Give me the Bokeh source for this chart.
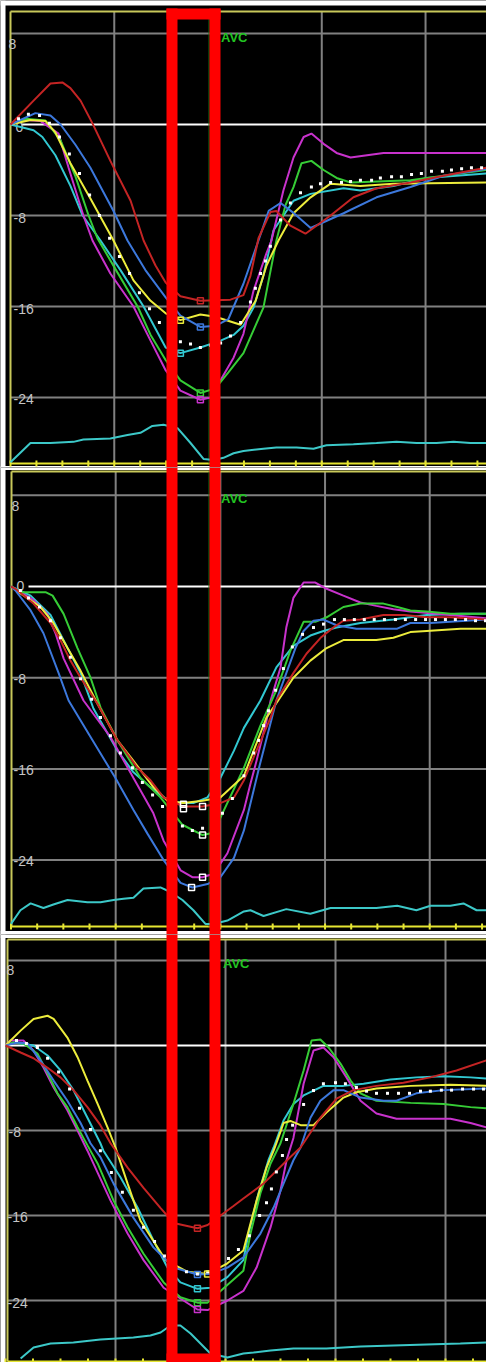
from bokeh.plotting import figure
from bokeh.layouts import column
from bokeh.models import Range1d
from bokeh.embed import file_html
from bokeh.resources import INLINE
from bokeh.core.properties import value

# ---------------- axis / tick data ----------------
Y_TICKS = [8, 0, -8, -16, -24]
Y_LABELS = ["8", "0", "-8", "-16", "-24"]
GRID_S = [8, -8, -16, -24]
GRID_T = [400, 800, 1200, 1600]
X_TICKS = [0, 100, 200, 300, 400, 500, 600, 700, 800, 900, 1000,
           1100, 1200, 1300, 1400, 1500, 1600, 1700, 1800]

# ---------------- panel 1 (time ms, strain %) ----------------
p1_red_t = [0, 89, 154, 200, 231, 270, 316, 385, 463, 513, 559, 598, 655, 732, 848, 898, 925, 956, 1002, 1025, 1079, 1137, 1234, 1322, 1411, 1542, 1669, 1835]
p1_red_s = [0, 2.1, 3.6, 3.7, 3.2, 2.1, 0.1, -3.2, -6.7, -10.2, -12.4, -13.9, -15.1, -15.5, -15.4, -15.0, -13.3, -10.0, -7.7, -7.6, -8.9, -9.6, -8.0, -6.4, -5.6, -5.1, -4.5, -3.8]
p1_blue_t = [0, 96, 154, 193, 251, 308, 397, 451, 520, 598, 655, 732, 790, 840, 898, 956, 995, 1041, 1087, 1157, 1284, 1411, 1542, 1669, 1835]
p1_blue_s = [0, 1.0, 0.8, 0, -1.8, -3.8, -7.6, -10.2, -12.8, -15.2, -16.8, -17.8, -17.7, -17.1, -14.0, -10.2, -7.6, -6.9, -7.7, -9.1, -7.8, -6.4, -5.5, -4.5, -3.9]
p1_yellow_t = [0, 77, 135, 173, 231, 308, 397, 474, 540, 598, 655, 732, 790, 887, 945, 987, 1033, 1091, 1157, 1234, 1349, 1476, 1835]
p1_yellow_s = [0, 0.4, 0.3, -0.7, -3.4, -6.5, -10.2, -13.7, -15.5, -16.6, -17.2, -16.7, -16.9, -17.6, -15.5, -12.4, -10.2, -7.8, -6.4, -5.2, -5.4, -5.2, -5.1]
p1_green_t = [0, 58, 135, 193, 251, 301, 335, 412, 490, 540, 598, 655, 732, 790, 840, 898, 975, 1025, 1060, 1091, 1122, 1160, 1207, 1257, 1311, 1542, 1835]
p1_green_s = [0, 0.5, 0.35, -1.4, -4.6, -8.0, -10.0, -13.0, -16.0, -18.5, -20.7, -22.5, -23.6, -23.2, -21.8, -20.1, -16.1, -10.2, -7.1, -5.5, -3.4, -3.2, -4.0, -4.7, -5.1, -4.9, -4.0]
p1_magenta_t = [0, 58, 116, 185, 224, 281, 316, 385, 474, 540, 598, 655, 732, 771, 860, 898, 937, 987, 1006, 1052, 1091, 1130, 1160, 1207, 1257, 1311, 1438, 1604, 1773, 1835]
p1_magenta_s = [0, 0.4, 0.3, -0.8, -3.8, -8.0, -10.2, -13.1, -16.0, -19.0, -21.6, -23.4, -24.2, -24.0, -20.5, -18.4, -14.6, -11.3, -10.2, -5.8, -2.9, -1.1, -0.8, -1.7, -2.5, -2.9, -2.5, -2.5, -2.5, -2.5]
p1_cyan_t = [0, 89, 123, 173, 231, 278, 347, 424, 513, 598, 655, 732, 810, 860, 898, 937, 975, 1014, 1091, 1157, 1284, 1349, 1476, 1604, 1835]
p1_cyan_s = [0, -0.5, -1.1, -2.7, -5.4, -8.0, -10.2, -12.8, -16.0, -19.6, -20.1, -19.6, -19.0, -18.5, -17.7, -16.1, -13.3, -9.3, -6.7, -6.1, -5.6, -5.8, -5.4, -4.7, -4.3]
p1_avg_t = [31, 69, 112, 150, 189, 227, 266, 305, 343, 382, 420, 459, 497, 536, 574, 613, 655, 694, 732, 771, 810, 848, 887, 925, 944, 964, 983, 1002, 1041, 1079, 1118, 1160, 1195, 1234, 1276, 1311, 1349, 1392, 1426, 1469, 1507, 1546, 1584, 1623, 1665, 1700, 1739, 1777, 1816]
p1_avg_s = [0.5, 0.9, 0.8, 0.1, -1.1, -2.6, -4.3, -6.2, -8.0, -10.0, -11.6, -13.1, -14.8, -16.2, -17.4, -18.3, -19.1, -19.3, -19.6, -19.4, -19.2, -18.6, -17.4, -15.6, -14.4, -13.1, -12.0, -10.7, -8.4, -6.9, -6.0, -5.5, -5.2, -5.1, -5.1, -5.0, -4.9, -4.9, -4.7, -4.6, -4.6, -4.4, -4.3, -4.1, -4.1, -4.0, -3.9, -3.8, -3.8]
p1_trace_t = [0, 77, 154, 243, 281, 385, 451, 501, 547, 590, 644, 694, 744, 783, 821, 860, 898, 975, 1025, 1103, 1168, 1218, 1322, 1411, 1488, 1565, 1642, 1708, 1773, 1835]
p1_trace_s = [-29.7, -28.0, -28.0, -27.9, -27.7, -27.6, -27.3, -27.1, -26.5, -26.4, -26.7, -28.0, -29.4, -29.5, -29.3, -28.9, -28.7, -28.5, -28.4, -28.4, -28.5, -28.2, -28.1, -28.0, -27.9, -28.0, -28.0, -27.9, -28.0, -28.0]
p1_mark_t = [732, 655, 732, 655, 732, 732]
p1_mark_s = [-15.5, -17.2, -17.8, -20.1, -23.6, -24.2]

# ---------------- panel 2 ----------------
p2_red_t = [0, 17, 86, 151, 189, 227, 266, 331, 407, 483, 533, 583, 659, 732, 800, 852, 890, 938, 992, 1014, 1079, 1129, 1183, 1232, 1270, 1335, 1423, 1503, 1588, 1679, 1817]
p2_red_s = [0, -0.2, -1.5, -3.2, -4.7, -6.5, -8.0, -10.3, -13.5, -15.9, -17.0, -18.5, -19.3, -19.3, -19.0, -18.5, -17.0, -14.4, -11.5, -10.0, -7.6, -5.9, -4.5, -3.6, -3.0, -2.9, -2.5, -2.5, -2.7, -2.7, -2.9]
p2_blue_t = [0, 17, 75, 124, 182, 220, 304, 399, 468, 522, 583, 648, 693, 751, 800, 852, 890, 950, 1014, 1052, 1087, 1118, 1156, 1194, 1244, 1320, 1476, 1526, 1603, 1817]
p2_blue_s = [0, -0.35, -2.1, -4.1, -7.6, -10.0, -13.2, -16.8, -19.6, -21.7, -24.0, -26.0, -26.4, -26.1, -25.5, -23.8, -21.4, -15.7, -10.0, -7.6, -5.4, -3.9, -3.0, -2.9, -3.4, -3.7, -3.7, -3.2, -3.2, -2.9]
p2_yellow_t = [0, 36, 113, 162, 216, 266, 331, 407, 468, 544, 598, 659, 732, 800, 890, 976, 1003, 1079, 1144, 1206, 1270, 1396, 1461, 1526, 1588, 1718, 1817]
p2_yellow_s = [0, -0.6, -1.8, -3.2, -5.4, -7.4, -10.3, -13.5, -15.3, -17.6, -18.8, -19.0, -18.8, -18.5, -16.6, -11.5, -10.6, -8.0, -6.5, -5.4, -4.7, -4.7, -4.5, -4.0, -3.9, -3.7, -3.7]
p2_green_t = [0, 36, 132, 159, 201, 254, 304, 342, 407, 495, 571, 655, 732, 774, 808, 890, 953, 1014, 1068, 1118, 1163, 1206, 1270, 1335, 1423, 1476, 1526, 1588, 1679, 1817]
p2_green_s = [0, -0.5, -0.5, -0.8, -2.4, -5.4, -8.0, -10.6, -13.5, -16.8, -18.5, -20.9, -21.8, -21.6, -19.9, -15.9, -12.2, -9.1, -5.6, -3.1, -3.1, -2.7, -1.8, -1.5, -1.5, -1.8, -2.1, -2.2, -2.4, -2.4]
p2_magenta_t = [0, 86, 139, 170, 201, 277, 380, 468, 544, 583, 648, 693, 732, 774, 827, 890, 915, 938, 976, 992, 1030, 1052, 1079, 1118, 1163, 1206, 1270, 1335, 1396, 1461, 1526, 1626, 1817]
p2_magenta_s = [0, -1.2, -2.4, -4.1, -6.3, -10.0, -13.2, -16.8, -19.9, -22.3, -24.9, -25.5, -25.5, -25.2, -23.4, -19.6, -17.3, -15.3, -11.8, -10.0, -7.1, -3.6, -1.0, 0.35, 0.35, -0.2, -0.8, -1.4, -1.7, -2.0, -2.2, -2.4, -2.8]
p2_cyan_t = [0, 75, 151, 216, 266, 315, 342, 407, 468, 533, 583, 648, 697, 751, 800, 852, 890, 953, 1014, 1079, 1144, 1194, 1244, 1335, 1461, 1588, 1718, 1817]
p2_cyan_s = [0, -0.8, -2.5, -5.4, -7.6, -10.7, -11.8, -14.4, -16.3, -17.6, -18.5, -19.0, -19.0, -18.5, -16.8, -14.4, -12.4, -10.0, -7.1, -5.2, -4.3, -3.9, -3.6, -3.2, -2.9, -2.5, -2.4, -2.4]
p2_avg_t = [36, 67, 109, 151, 189, 227, 266, 308, 342, 380, 418, 464, 502, 541, 579, 617, 655, 693, 732, 770, 808, 846, 890, 927, 946, 965, 984, 1011, 1041, 1075, 1114, 1156, 1194, 1236, 1274, 1312, 1350, 1388, 1427, 1469, 1507, 1546, 1584, 1622, 1660, 1698, 1737, 1775, 1813]
p2_avg_s = [-0.35, -1.0, -1.8, -3.0, -4.5, -6.2, -8.1, -9.9, -11.5, -13.1, -14.6, -15.9, -17.2, -18.3, -19.3, -20.1, -21.0, -21.4, -21.2, -20.7, -19.9, -18.6, -16.6, -14.6, -13.5, -12.2, -10.9, -9.1, -7.2, -5.3, -4.2, -3.6, -3.3, -2.9, -2.9, -2.9, -2.9, -2.9, -2.9, -2.9, -2.9, -2.9, -2.9, -2.9, -2.9, -2.9, -2.9, -3.0, -3.0]
p2_trace_t = [0, 36, 75, 124, 162, 216, 292, 342, 392, 430, 468, 506, 571, 609, 655, 697, 743, 774, 827, 890, 915, 965, 1052, 1144, 1221, 1309, 1396, 1476, 1549, 1603, 1679, 1729, 1779, 1817]
p2_trace_s = [-29.6, -28.4, -27.8, -28.2, -27.9, -27.5, -27.7, -27.7, -27.5, -27.4, -27.3, -26.5, -26.4, -26.8, -27.5, -28.4, -29.6, -29.6, -29.3, -28.5, -28.4, -28.9, -28.3, -28.7, -28.2, -28.2, -28.2, -28.0, -28.4, -28.0, -28.0, -27.8, -28.4, -28.4]
p2_mark_t = [659, 659, 732, 732, 732, 690]
p2_mark_s = [-19.1, -19.5, -19.3, -21.8, -25.5, -26.4]

# ---------------- panel 3 ----------------
p3_red_t = [0, 55, 102, 153, 200, 247, 298, 345, 382, 444, 502, 564, 611, 698, 735, 782, 829, 865, 938, 985, 1036, 1073, 1145, 1204, 1265, 1349, 1447, 1545, 1640, 1749]
p3_red_s = [0, -0.66, -1.2, -2.1, -3.0, -4.2, -5.8, -7.5, -9.2, -11.5, -13.4, -15.3, -16.7, -17.2, -16.9, -16.0, -15.1, -14.4, -13.0, -11.8, -10.5, -9.6, -6.8, -5.0, -4.2, -3.8, -3.5, -3.0, -2.35, -1.4]
p3_blue_t = [0, 44, 80, 127, 175, 225, 273, 309, 345, 393, 465, 538, 611, 698, 745, 807, 865, 927, 975, 1011, 1047, 1073, 1109, 1145, 1193, 1229, 1291, 1375, 1422, 1494, 1593, 1749]
p3_blue_s = [0, 0.28, 0.19, -1.4, -3.3, -5.2, -7.3, -9.2, -10.5, -13.0, -16.2, -19.0, -20.9, -21.55, -21.5, -20.9, -19.95, -17.7, -15.25, -13.0, -10.8, -9.6, -6.8, -5.2, -4.2, -4.2, -4.9, -5.2, -5.2, -4.5, -4.2, -4.05]
p3_yellow_t = [0, 55, 102, 153, 175, 225, 262, 298, 335, 371, 400, 444, 491, 538, 582, 662, 735, 807, 865, 913, 949, 975, 985, 1011, 1036, 1073, 1120, 1167, 1229, 1276, 1349, 1473, 1618, 1749]
p3_yellow_s = [0, 1.4, 2.5, 2.8, 2.5, 0.75, -1.1, -3.3, -5.5, -7.7, -9.6, -13.0, -16.5, -18.4, -20.2, -21.3, -21.5, -20.5, -19.3, -14.6, -11.5, -9.9, -9.2, -7.3, -7.1, -7.5, -7.5, -6.3, -4.9, -4.4, -4.05, -3.8, -3.7, -3.8]
p3_green_t = [0, 29, 65, 116, 153, 189, 225, 262, 298, 335, 393, 444, 502, 575, 636, 698, 735, 782, 865, 891, 927, 964, 1000, 1047, 1084, 1113, 1145, 1175, 1218, 1255, 1291, 1349, 1473, 1593, 1691, 1749]
p3_green_s = [0, 0.28, 0.19, -0.75, -2.6, -4.5, -5.8, -7.7, -9.4, -11.1, -14.6, -17.1, -19.6, -22.3, -23.7, -24.2, -24.2, -23.1, -21.2, -17.7, -13.9, -11.1, -9.2, -5.5, -2.35, 0.47, 0.56, -0.19, -1.7, -3.3, -4.5, -5.2, -5.4, -5.5, -5.8, -5.9]
p3_magenta_t = [0, 18, 65, 102, 138, 175, 225, 262, 298, 382, 444, 502, 575, 698, 735, 807, 865, 913, 964, 1000, 1022, 1047, 1084, 1120, 1156, 1193, 1240, 1291, 1349, 1422, 1531, 1618, 1691, 1749]
p3_magenta_s = [0, 0.47, 0.47, -0.47, -2.07, -3.95, -6.1, -8.0, -9.9, -14.6, -17.7, -20.2, -22.8, -24.85, -24.9, -24.0, -23.1, -20.9, -17.1, -13.65, -10.8, -8.7, -3.6, -0.47, -0.19, -1.1, -3.0, -5.2, -6.4, -6.9, -6.9, -6.9, -7.3, -7.7]
p3_cyan_t = [0, 29, 102, 153, 200, 247, 298, 345, 356, 418, 480, 538, 589, 636, 698, 745, 807, 865, 884, 920, 956, 975, 1011, 1047, 1084, 1156, 1229, 1302, 1400, 1494, 1593, 1691, 1749]
p3_cyan_s = [0, 0.28, 0, -0.94, -2.35, -4.2, -6.8, -9.2, -9.9, -12.4, -15.25, -18.35, -20.9, -22.3, -22.9, -22.8, -21.8, -20.2, -17.7, -13.9, -10.8, -9.6, -7.06, -5.5, -4.7, -3.8, -3.8, -3.6, -3.2, -3.0, -2.9, -3.0, -3.1]
p3_avg_t = [40, 76, 116, 153, 193, 233, 269, 309, 345, 385, 425, 465, 502, 542, 578, 618, 658, 698, 735, 775, 811, 847, 887, 924, 949, 967, 985, 1007, 1022, 1044, 1084, 1120, 1156, 1200, 1236, 1276, 1313, 1349, 1389, 1429, 1469, 1509, 1545, 1585, 1622, 1662, 1702, 1738]
p3_avg_s = [0.47, 0.19, -0.19, -1.2, -2.5, -4.1, -5.9, -7.9, -9.9, -11.95, -13.8, -15.5, -17.1, -18.45, -19.8, -20.6, -21.3, -21.5, -21.3, -20.7, -20.05, -19.2, -17.9, -16.0, -14.8, -13.5, -11.9, -10.35, -8.85, -7.5, -5.55, -4.24, -3.6, -3.5, -3.6, -3.95, -4.3, -4.5, -4.5, -4.5, -4.5, -4.3, -4.3, -4.2, -4.2, -4.1, -4.1, -4.1]
p3_trace_t = [55, 102, 164, 247, 345, 465, 527, 564, 600, 636, 673, 709, 745, 807, 865, 902, 964, 1047, 1167, 1291, 1411, 1531, 1654, 1749]
p3_trace_s = [-29.46, -28.42, -28.05, -27.95, -27.67, -27.48, -27.29, -27.01, -26.35, -26.35, -27.11, -28.05, -28.99, -29.36, -28.99, -28.89, -28.71, -28.52, -28.52, -28.33, -28.24, -28.14, -28.05, -27.95]
p3_mark_t = [698, 698, 735, 698, 698, 698]
p3_mark_s = [-17.2, -21.55, -21.5, -22.9, -24.2, -24.85]

# ---------------- styles ----------------
RED = "#c42424"
BLUE = "#3c78dc"
YELLOW = "#ecec3c"
GREEN = "#36cc36"
MAGENTA = "#c832cc"
CYAN = "#32c8d2"
TRACE = "#3cc8c8"
GRID_C = "#808080"
FRAME_C = "#c8c85a"
TICK_C = "#e6e632"
LABEL_C = "#c4c4c4"
AVC_C = "#22c422"
AVC_LINE_C = "#146e14"
HILITE = "#ff0000"

FIG_LEFT, FIG_RIGHT = 0, 486   # page pixels covered by the figures
FIG_W = FIG_RIGHT - FIG_LEFT

PANELS = [
    dict(x0=10.0, kx=0.2594, y0=124.0, ky=11.375, top=0, bottom=467,
         frame_top=11, frame_left=10, axis_y=463, whites=[(0, 5), (465.5, 467)],
         zero_from=21, label_x=[8, 15, 13, 13, 13], label_dy=[10, 2, 2, 2, 1],
         avc=(220.5, 37), avc_line=True, top_band=(8, 19), bottom_band=None),
    dict(x0=10.5, kx=0.2617, y0=586.0, ky=11.4, top=467, bottom=934,
         frame_top=471, frame_left=11, axis_y=926, whites=[(467, 469.5), (930.5, 934)],
         zero_from=28, label_x=[11, 16, 13, 13, 13], label_dy=[11, -1, 1, 1, 1],
         avc=(220.5, 498), avc_line=True, top_band=None, bottom_band=None),
    dict(x0=5.0, kx=0.275, y0=1045.0, ky=10.625, top=934, bottom=1362,
         frame_top=939, frame_left=7, axis_y=1361, whites=[(934, 937.5)],
         zero_from=8, label_x=[6, None, 8, 7, 7], label_dy=[9, 0, 1, 1, 2],
         avc=(222.5, 963), avc_line=False, top_band=None, bottom_band=(1353, 1362)),
]

SERIES = [
    dict(curves=[(p1_cyan_t, p1_cyan_s, CYAN), (p1_magenta_t, p1_magenta_s, MAGENTA),
                 (p1_green_t, p1_green_s, GREEN), (p1_yellow_t, p1_yellow_s, YELLOW),
                 (p1_blue_t, p1_blue_s, BLUE), (p1_red_t, p1_red_s, RED)],
         avg=(p1_avg_t, p1_avg_s), trace=(p1_trace_t, p1_trace_s),
         marks=(p1_mark_t, p1_mark_s, [RED, YELLOW, BLUE, CYAN, GREEN, MAGENTA])),
    dict(curves=[(p2_cyan_t, p2_cyan_s, CYAN), (p2_magenta_t, p2_magenta_s, MAGENTA),
                 (p2_green_t, p2_green_s, GREEN), (p2_yellow_t, p2_yellow_s, YELLOW),
                 (p2_blue_t, p2_blue_s, BLUE), (p2_red_t, p2_red_s, RED)],
         avg=(p2_avg_t, p2_avg_s), trace=(p2_trace_t, p2_trace_s),
         marks=(p2_mark_t, p2_mark_s, ["white"] * 6)),
    dict(curves=[(p3_cyan_t, p3_cyan_s, CYAN), (p3_magenta_t, p3_magenta_s, MAGENTA),
                 (p3_green_t, p3_green_s, GREEN), (p3_yellow_t, p3_yellow_s, YELLOW),
                 (p3_blue_t, p3_blue_s, BLUE), (p3_red_t, p3_red_s, RED)],
         avg=(p3_avg_t, p3_avg_s), trace=(p3_trace_t, p3_trace_s),
         marks=(p3_mark_t, p3_mark_s, [RED, BLUE, YELLOW, CYAN, GREEN, MAGENTA])),
]


def make_panel(G, S):
    tx = lambda px: (px - G["x0"]) / G["kx"]
    sy = lambda py: (G["y0"] - py) / G["ky"]
    h = G["bottom"] - G["top"]
    p = figure(width=FIG_W, height=h,
               x_range=Range1d(tx(FIG_LEFT), tx(FIG_RIGHT)),
               y_range=Range1d(sy(G["bottom"]), sy(G["top"])),
               output_backend="svg", toolbar_location=None,
               x_axis_type=None, y_axis_type=None, title=None,
               min_border=0, background_fill_color="black",
               border_fill_color="black", outline_line_color=None)

    xl, xr = tx(FIG_LEFT), tx(FIG_RIGHT)
    top_y, bot_y = sy(G["top"]), sy(G["bottom"])
    # white page edges / separators between panels
    p.quad(left=[xl], right=[tx(5)], top=[top_y], bottom=[bot_y],
           fill_color="white", line_color=None)
    for a, b in G["whites"]:
        p.quad(left=[xl], right=[xr], top=[sy(a)], bottom=[sy(b)],
               fill_color="white", line_color=None)

    gl = G["frame_left"]
    gbot = G["axis_y"]
    # grid
    p.segment(x0=[tx(gl)] * len(GRID_S), y0=GRID_S, x1=[xr] * len(GRID_S), y1=GRID_S,
              line_color=GRID_C, line_width=2)
    p.segment(x0=GRID_T, y0=[sy(G["frame_top"])] * len(GRID_T), x1=GRID_T,
              y1=[sy(gbot)] * len(GRID_T), line_color=GRID_C, line_width=2)
    # zero line
    p.segment(x0=[tx(G["zero_from"])], y0=[0], x1=[xr], y1=[0],
              line_color="white", line_width=2)
    # frame
    p.segment(x0=[tx(gl)], y0=[sy(G["frame_top"])], x1=[xr], y1=[sy(G["frame_top"])],
              line_color=FRAME_C, line_width=2)
    p.segment(x0=[tx(gl)], y0=[sy(G["frame_top"])], x1=[tx(gl)], y1=[sy(gbot)],
              line_color=FRAME_C, line_width=2)
    ay = G["axis_y"]
    p.segment(x0=[tx(gl)], y0=[sy(ay)], x1=[xr], y1=[sy(ay)],
              line_color=TICK_C, line_width=2)
    p.segment(x0=X_TICKS, y0=[sy(ay - 3)] * len(X_TICKS), x1=X_TICKS,
              y1=[sy(ay + 3)] * len(X_TICKS), line_color=TICK_C, line_width=2)

    # y tick labels
    lx, ly, lt = [], [], []
    for tick, lab, px, dy in zip(Y_TICKS, Y_LABELS, G["label_x"], G["label_dy"]):
        if px is None:
            continue
        lx.append(tx(px))
        ly.append(tick - dy / G["ky"])
        lt.append(lab)
    p.text(x=lx, y=ly, text=lt, text_color=LABEL_C, text_font=value("Liberation Sans"),
           text_font_size="14px", text_align="left", text_baseline="middle")

    # AVC marker
    if G["avc_line"]:
        p.segment(x0=[tx(208.5)], y0=[sy(G["frame_top"])], x1=[tx(208.5)], y1=[sy(gbot)],
                  line_color=AVC_LINE_C, line_width=1)
    p.text(x=[tx(G["avc"][0])], y=[sy(G["avc"][1])], text=["AVC"], text_color=AVC_C,
           text_font=value("Liberation Sans"), text_font_style="bold",
           text_font_size="13px", text_align="left", text_baseline="middle")

    # lower trace
    p.line(S["trace"][0], S["trace"][1], line_color=TRACE, line_width=2)
    # strain curves
    for t, s, c in S["curves"]:
        p.line(t, s, line_color=c, line_width=2)
    # average (dotted white)
    p.scatter(S["avg"][0], S["avg"][1], marker="square", size=3,
              fill_color="white", line_color=None)
    # peak markers
    mt, ms, mc = S["marks"]
    p.scatter(mt, ms, marker="square", size=6, fill_color=None,
              line_color=mc, line_width=1.5)

    # red highlight rectangle
    band_top = sy(G["top_band"][0]) if G["top_band"] is not None else top_y
    band_bot = sy(G["bottom_band"][1]) if G["bottom_band"] is not None else bot_y
    p.quad(left=[tx(166), tx(209)], right=[tx(177), tx(220)],
           top=[band_top, band_top], bottom=[band_bot, band_bot],
           fill_color=HILITE, line_color=None)
    if G["top_band"] is not None:
        a, b = G["top_band"]
        p.quad(left=[tx(166)], right=[tx(220)], top=[sy(a)], bottom=[sy(b)],
               fill_color=HILITE, line_color=None)
    if G["bottom_band"] is not None:
        a, b = G["bottom_band"]
        p.quad(left=[tx(166)], right=[tx(220)], top=[sy(a)], bottom=[sy(b)],
               fill_color=HILITE, line_color=None)
    return p


figs = [make_panel(G, S) for G, S in zip(PANELS, SERIES)]
layout = column(*figs, spacing=0)

open("out.html", "w").write(file_html(layout, INLINE))
